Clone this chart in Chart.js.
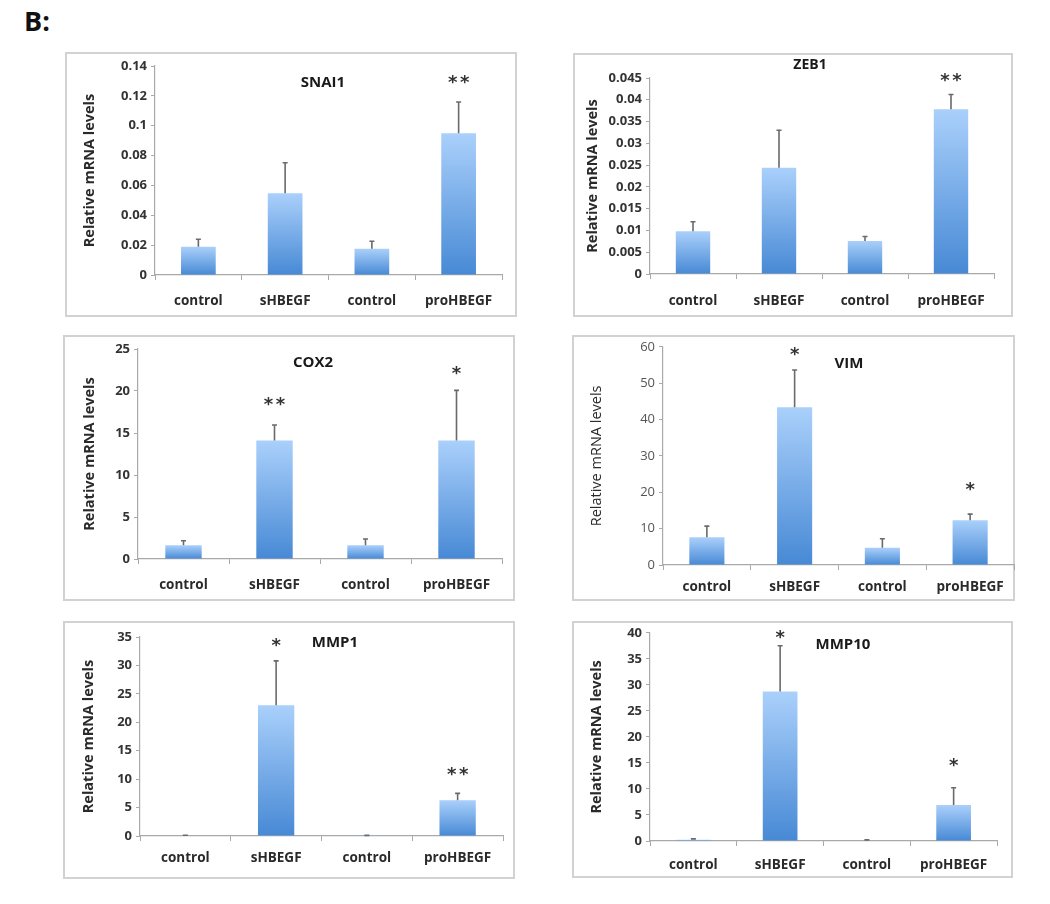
<!DOCTYPE html>
<html><head><meta charset="utf-8">
<script src="https://cdn.jsdelivr.net/npm/chart.js@4.4.1/dist/chart.umd.min.js"></script>
<style>
html,body{margin:0;padding:0;background:#fff}
body{width:1050px;height:904px;position:relative;overflow:hidden}
.panel{position:absolute;box-sizing:border-box;border:2px solid #d2d2d2;background:#fff}
.panel canvas{position:absolute;left:-2px;top:-2px}
#lab{position:absolute;left:24px;top:7px;font:bold 27px 'Open Sans',sans-serif;line-height:1;color:#111}
</style></head><body>
<div id="lab">B:</div>
<script>
// ---------- data ----------
const categories = ['control', 'sHBEGF', 'control', 'proHBEGF'];

const snai1Values = [0.019, 0.0547, 0.0176, 0.0949];
const snai1Errors = [0.0049, 0.0205, 0.005, 0.021];
const snai1Ticks  = [0, 0.02, 0.04, 0.06, 0.08, 0.1, 0.12, 0.14];
const snai1Stars  = ['', '', '', '**'];
const snai1StarAt = [null, null, null, 0.131];

const zeb1Values = [0.0098, 0.0244, 0.0076, 0.0378];
const zeb1Errors = [0.0022, 0.0086, 0.001, 0.0034];
const zeb1Ticks  = [0, 0.005, 0.01, 0.015, 0.02, 0.025, 0.03, 0.035, 0.04, 0.045];
const zeb1Stars  = ['', '', '', '**'];
const zeb1StarAt = [null, null, null, 0.0452];

const cox2Values = [1.63, 14.1, 1.63, 14.1];
const cox2Errors = [0.55, 1.85, 0.75, 5.98];
const cox2Ticks  = [0, 5, 10, 15, 20, 25];
const cox2Stars  = ['', '**', '', '*'];
const cox2StarAt = [null, 18.8, null, 22.5];

const vimValues = [7.6, 43.4, 4.75, 12.3];
const vimErrors = [3.1, 10.2, 2.45, 1.7];
const vimTicks  = [0, 10, 20, 30, 40, 50, 60];
const vimStars  = ['', '*', '', '*'];
const vimStarAt = [null, 58.7, null, 21.7];

const mmp1Values = [0.08, 23.0, 0.06, 6.3];
const mmp1Errors = [0.05, 7.8, 0.05, 1.2];
const mmp1Ticks  = [0, 5, 10, 15, 20, 25, 30, 35];
const mmp1Stars  = ['', '*', '', '**'];
const mmp1StarAt = [null, 34.1, null, 11.3];

const mmp10Values = [0.25, 28.7, 0.12, 6.94];
const mmp10Errors = [0.15, 8.8, 0.1, 3.3];
const mmp10Ticks  = [0, 5, 10, 15, 20, 25, 30, 35, 40];
const mmp10Stars  = ['', '*', '', '*'];
const mmp10StarAt = [null, 39.8, null, 15.1];

const yTitle = 'Relative mRNA levels';

// ---------- layout (positions / styles) ----------
const panels = [
  {title:'SNAI1', values:snai1Values, errors:snai1Errors, ticks:snai1Ticks, stars:snai1Stars, starAt:snai1StarAt,
   box:[65,52,452,265], area:[90,14,437,223], ytc:25, tfx:0.484, tfy:0.081, tsize:15, light:false, xpad:13},
  {title:'ZEB1', values:zeb1Values, errors:zeb1Errors, ticks:zeb1Ticks, stars:zeb1Stars, starAt:zeb1StarAt,
   box:[573,53,440,264], area:[77,25,421,221], ytc:20, tfx:0.465, tfy:-0.066, tsize:14, light:false, xpad:14},
  {title:'COX2', values:cox2Values, errors:cox2Errors, ticks:cox2Ticks, stars:cox2Stars, starAt:cox2StarAt,
   box:[63,335,452,266], area:[75,14,439,224], ytc:27, tfx:0.481, tfy:0.067, tsize:15, light:false, xpad:13},
  {title:'VIM', values:vimValues, errors:vimErrors, ticks:vimTicks, stars:vimStars, starAt:vimStarAt,
   box:[572,335,443,266], area:[91,11,442,230], ytc:25, tfx:0.53, tfy:0.078, tsize:15, light:true, xpad:9},
  {title:'MMP1', values:mmp1Values, errors:mmp1Errors, ticks:mmp1Ticks, stars:mmp1Stars, starAt:mmp1StarAt,
   box:[63,621,452,258], area:[77,16,440,215], ytc:26, tfx:0.537, tfy:0.03, tsize:15, light:false, xpad:9},
  {title:'MMP10', values:mmp10Values, errors:mmp10Errors, ticks:mmp10Ticks, stars:mmp10Stars, starAt:mmp10StarAt,
   box:[572,621,441,257], area:[78,8,425,220], ytc:25, tfx:0.556, tfy:0.057, tsize:15, light:false, xpad:11}
];

const FONT = "'Open Sans', sans-serif";
const fmt = v => String(+Number(v).toFixed(6));

function makeOverlay(p){
  return {
    id:'overlay',
    afterDatasetsDraw(chart){
      const {ctx, scales:{x, y}, chartArea} = chart;
      const meta = chart.getDatasetMeta(0);
      ctx.save();
      // error bars
      ctx.strokeStyle = '#6a6a6a';
      ctx.lineWidth = 1.6;
      p.values.forEach((v, i) => {
        const bx = meta.data[i].x;
        const y0 = y.getPixelForValue(v), y1 = y.getPixelForValue(v + p.errors[i]);
        ctx.beginPath();
        ctx.moveTo(bx, y0); ctx.lineTo(bx, y1);
        ctx.moveTo(bx - 2.5, y1); ctx.lineTo(bx + 2.5, y1);
        ctx.stroke();
      });
      // significance stars
      ctx.fillStyle = '#333';
      ctx.font = "bold 18px 'DejaVu Sans', sans-serif";
      ctx.textAlign = 'center';
      ctx.textBaseline = 'middle';
      p.stars.forEach((s, i) => {
        if (!s) return;
        const bx = meta.data[i].x;
        const sy = y.getPixelForValue(p.starAt[i]) + 4;
        const gap = 12;
        const n = s.length;
        for (let k = 0; k < n; k++) {
          ctx.fillText('*', bx + (k - (n - 1) / 2) * gap, sy);
        }
      });
      // panel title
      ctx.fillStyle = '#1a1a1a';
      ctx.font = `bold ${p.tsize}px ${FONT}`;
      ctx.fillText(p.title, chartArea.left + p.tfx * (chartArea.right - chartArea.left),
                   chartArea.top + p.tfy * (chartArea.bottom - chartArea.top));
      ctx.restore();
    }
  };
}

panels.forEach(p => {
  const [bx, by, bw, bh] = p.box;
  const [al, at, ar, ab] = p.area;
  const div = document.createElement('div');
  div.className = 'panel';
  div.style.left = bx + 'px'; div.style.top = by + 'px';
  div.style.width = bw + 'px'; div.style.height = bh + 'px';
  const cv = document.createElement('canvas');
  cv.width = bw; cv.height = bh;
  cv.style.width = bw + 'px'; cv.style.height = bh + 'px';
  div.appendChild(cv);
  document.body.appendChild(div);

  const axisColor = '#a9a9a9';
  new Chart(cv.getContext('2d'), {
    type:'bar',
    data:{
      labels:categories,
      datasets:[{
        data:p.values,
        categoryPercentage:1,
        barPercentage:0.4,
        borderWidth:0,
        backgroundColor:(c) => {
          const chart = c.chart;
          const {ctx, chartArea, scales} = chart;
          if (!chartArea || !scales.y) return '#6fa3e6';
          const v = c.parsed ? c.parsed.y : 0;
          const t = scales.y.getPixelForValue(v), b = scales.y.getPixelForValue(0);
          if (b - t < 1) return '#8ab8ee';
          const g = ctx.createLinearGradient(0, t, 0, b);
          g.addColorStop(0, '#aad0fb');
          g.addColorStop(1, '#4789d5');
          return g;
        }
      }]
    },
    options:{
      responsive:false,
      animation:false,
      devicePixelRatio:1,
      layout:{padding:{left:0, top:at, right:bw - ar, bottom:0}},
      plugins:{legend:{display:false}, tooltip:{enabled:false}, title:{display:false}},
      scales:{
        x:{
          grid:{display:true, drawOnChartArea:false, drawTicks:true, tickLength:5, color:axisColor, offset:true},
          border:{display:true, color:axisColor, width:1.2},
          ticks:{padding:p.xpad, color:'#2a2a2a', font:{family:FONT, weight:'bold', size:13.5}, maxRotation:0},
          afterFit:s => { s.height = bh - ab; }
        },
        y:{
          min:0, max:p.ticks[p.ticks.length - 1],
          afterBuildTicks:s => { s.ticks = p.ticks.map(v => ({value:v})); },
          grid:{display:true, drawOnChartArea:false, drawTicks:true, tickLength:4, color:axisColor},
          border:{display:true, color:axisColor, width:1.2},
          ticks:{padding:4, color:p.light ? '#555' : '#333', callback:v => fmt(v),
                 font:{family:FONT, weight:p.light ? 'normal' : 'bold', size:13}},
          title:{display:true, text:yTitle, color:'#2a2a2a',
                 font:{family:FONT, weight:p.light ? 'normal' : 'bold', size:14.5, lineHeight:1.2},
                 padding:{top:p.ytc - 8.7, bottom:0}},
          afterFit:s => { s.width = al; }
        }
      }
    },
    plugins:[makeOverlay(p)]
  });
});
</script>
</body></html>
